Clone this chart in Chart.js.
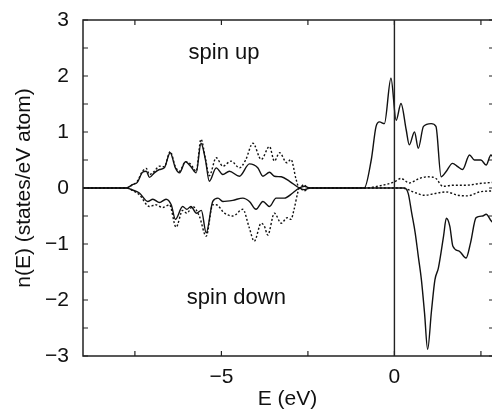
<!DOCTYPE html>
<html>
<head>
<meta charset="utf-8">
<script src="https://cdn.jsdelivr.net/npm/chart.js@4"></script>
<style>
	html, body { margin: 0; padding: 0; background: #fff; overflow: hidden; }
	#wrap { width: 492px; height: 412px; }
</style>
</head>
<body>
<div id="wrap"><canvas id="dos" width="492" height="412"></canvas></div>
<script>

// energies (eV) and n(E) values, one pair per curve

const upSolidE = [ -9, -7.75, -7.57, -7.43, -7.28, -7.17, -7.08, -6.94, -6.79, -6.65, -6.48, -6.33, -6.21, -6.04, -5.88, -5.73, -5.59, -5.46, -5.35, -5.15, -4.96, -4.77, -4.48, -4.19, -3.95, -3.8, -3.61, -3.47, -3.27, -3.03, -2.75, -2.6, -2.45, -0.87, -0.67, -0.53, -0.43, -0.29, -0.1, 0.05, 0.19, 0.34, 0.43, 0.58, 0.69, 0.84, 1.06, 1.2, 1.35, 1.49, 1.68, 1.83, 1.97, 2.17, 2.31, 2.5, 2.65, 2.79, 2.85 ];
const upSolidN = [ 0, 0, 0.06, 0.1, 0.28, 0.3, 0.19, 0.27, 0.33, 0.36, 0.63, 0.36, 0.27, 0.47, 0.38, 0.27, 0.8, 0.5, 0.12, 0.36, 0.24, 0.3, 0.21, 0.43, 0.36, 0.21, 0.28, 0.21, 0.2, 0.12, 0, -0.03, 0, 0, 0.5, 1.1, 1.18, 1.15, 1.96, 1.21, 1.51, 1.04, 0.77, 1.0, 0.71, 1.1, 1.15, 1.1, 0.2, 0.29, 0.44, 0.38, 0.33, 0.59, 0.5, 0.5, 0.41, 0.59, 0.55 ];

const upDotE = [ -9, -7.75, -7.57, -7.43, -7.28, -7.17, -7.08, -6.94, -6.79, -6.65, -6.48, -6.33, -6.21, -6.04, -5.88, -5.73, -5.59, -5.46, -5.35, -5.15, -4.96, -4.72, -4.48, -4.3, -4.09, -3.85, -3.61, -3.47, -3.32, -3.11, -2.99, -2.84, -2.75, -2.62, -2.5, -0.87, -0.34, 0, 0.19, 0.43, 0.72, 0.96, 1.2, 1.4, 1.69, 2.07, 2.46, 2.85 ];
const upDotN = [ 0, 0, 0.06, 0.12, 0.3, 0.35, 0.24, 0.3, 0.39, 0.38, 0.65, 0.38, 0.3, 0.47, 0.42, 0.3, 0.87, 0.52, 0.22, 0.54, 0.39, 0.48, 0.36, 0.5, 0.8, 0.51, 0.74, 0.48, 0.63, 0.45, 0.51, 0.15, 0, 0.06, 0, 0, 0.05, 0.11, 0.17, 0.09, 0.17, 0.2, 0.17, 0.03, 0.05, 0.05, 0.08, 0.1 ];

const downSolidE = [ -9, -7.75, -7.55, -7.37, -7.13, -6.98, -6.79, -6.6, -6.45, -6.33, -6.12, -6.0, -5.88, -5.72, -5.58, -5.44, -5.25, -5.1, -4.96, -4.67, -4.38, -4.19, -4.0, -3.8, -3.61, -3.42, -3.18, -2.94, -2.75, -2.6, -2.45, 0.29, 0.4, 0.5, 0.6, 0.69, 0.78, 0.87, 0.96, 1.07, 1.17, 1.27, 1.42, 1.5, 1.6, 1.69, 1.88, 2.07, 2.2, 2.36, 2.55, 2.65, 2.8, 2.85 ];
const downSolidN = [ 0, 0, -0.04, -0.09, -0.24, -0.2, -0.26, -0.2, -0.3, -0.56, -0.33, -0.38, -0.33, -0.45, -0.4, -0.8, -0.24, -0.18, -0.24, -0.22, -0.18, -0.24, -0.38, -0.24, -0.33, -0.18, -0.18, -0.09, 0, 0.03, 0, 0, -0.1, -0.45, -0.8, -1.22, -1.64, -2.23, -2.88, -2.2, -1.64, -1.43, -0.86, -0.54, -0.68, -1.04, -1.13, -1.25, -0.98, -0.53, -0.5, -0.47, -0.59, -0.62 ];

const downDotE = [ -9, -7.75, -7.55, -7.37, -7.08, -6.9, -6.7, -6.5, -6.31, -6.12, -6.0, -5.83, -5.64, -5.44, -5.25, -5.15, -4.91, -4.67, -4.38, -4.2, -4.05, -3.85, -3.76, -3.66, -3.47, -3.27, -3.1, -2.99, -2.9, -2.8, -2.75, -2.6, -2.45, 0.2, 0.63, 0.87, 1.16, 1.49, 1.83, 2.12, 2.46, 2.85 ];
const downDotN = [ 0, 0, -0.05, -0.12, -0.33, -0.3, -0.35, -0.3, -0.7, -0.4, -0.45, -0.33, -0.5, -0.86, -0.3, -0.3, -0.45, -0.5, -0.38, -0.7, -0.95, -0.63, -0.68, -0.84, -0.45, -0.63, -0.53, -0.56, -0.38, -0.1, 0, -0.05, 0, 0, -0.09, -0.13, -0.1, -0.07, -0.13, -0.14, -0.07, -0.05 ];

const xTickLabels = [ -5, 0 ];
const yTickLabels = [ -3, -2, -1, 0, 1, 2, 3 ];
// note anchors: left edge and baseline, in data units
const notes = [ { text: 'spin up', x: -5.95, y: 2.31 }, { text: 'spin down', x: -6.0, y: -2.08 } ];

const FONT = "'Liberation Sans', Arial, sans-serif";
const INK = '#111';

const pairs = ( es, ns ) => es.map( ( e, i ) => ( { x: e, y: ns[ i ] } ) );

const minus = v => v < 0 ? '\u2212' + Math.abs( v ) : String( v );

function curve ( es, ns, dotted ) {

	return {
		data: pairs( es, ns ),
		borderColor: INK,
		borderWidth: 1.4,
		borderDash: dotted ? [ 2, 2 ] : [],
		pointRadius: 0,
		fill: false,
		cubicInterpolationMode: 'monotone'
	};

}

// drop the label overhang chart.js reserves, so the plot box is set by layout padding alone
function noOverhang ( s ) {

	s.paddingTop = 0;
	s.paddingBottom = 0;
	s.paddingLeft = 0;
	s.paddingRight = 0;

}

// frame, inward ticks, the E = 0 line and the two notes
const framePlugin = {
	id: 'frame',
	afterDatasetsDraw ( chart ) {

		const { ctx, chartArea: a, scales: { x, y } } = chart;

		ctx.save();
		ctx.strokeStyle = '#222';
		ctx.lineWidth = 1.5;

		ctx.beginPath();
		ctx.moveTo( a.right + 2, a.top );
		ctx.lineTo( a.left, a.top );
		ctx.lineTo( a.left, a.bottom );
		ctx.lineTo( a.right + 2, a.bottom );
		ctx.stroke();

		ctx.lineWidth = 1.2;
		ctx.beginPath();

		for ( let v = -3; v <= 3; v += 0.5 ) {

			const py = y.getPixelForValue( v );
			ctx.moveTo( a.left, py );
			ctx.lineTo( a.left + 5, py );
			ctx.moveTo( a.right, py );
			ctx.lineTo( a.right - 3, py );

		}

		for ( let v = -7.5; v <= 2.5; v += 2.5 ) {

			const px = x.getPixelForValue( v );
			ctx.moveTo( px, a.top );
			ctx.lineTo( px, a.top + 5 );
			ctx.moveTo( px, a.bottom );
			ctx.lineTo( px, a.bottom - 5 );

		}

		ctx.stroke();

		const zx = x.getPixelForValue( 0 );
		ctx.lineWidth = 1.4;
		ctx.beginPath();
		ctx.moveTo( zx, a.top );
		ctx.lineTo( zx, a.bottom );
		ctx.stroke();

		ctx.fillStyle = INK;
		ctx.font = '22px ' + FONT;
		ctx.textAlign = 'left';
		ctx.textBaseline = 'alphabetic';

		notes.forEach( n => ctx.fillText( n.text, x.getPixelForValue( n.x ), y.getPixelForValue( n.y ) ) );

		ctx.restore();

	}
};

const config = {
	type: 'line',
	data: {
		datasets: [
			curve( upSolidE, upSolidN, false ),
			curve( upDotE, upDotN, true ),
			curve( downSolidE, downSolidN, false ),
			curve( downDotE, downDotN, true )
		]
	},
	options: {
		responsive: false,
		animation: false,
		events: [],
		layout: {
			padding: { top: 20, right: 0, bottom: 0, left: 0 }
		},
		plugins: {
			legend: { display: false },
			tooltip: { enabled: false }
		},
		scales: {
			x: {
				type: 'linear',
				min: -9,
				max: 2.82,
				grid: { display: false, drawTicks: false },
				border: { display: false },
				afterFit: s => { s.height = 56; noOverhang( s ); },
				ticks: {
					stepSize: 2.5,
					padding: 9,
					color: INK,
					font: { family: FONT, size: 21 },
					maxRotation: 0,
					autoSkip: false,
					callback: v => xTickLabels.includes( v ) ? minus( v ) : ''
				},
				title: {
					display: true,
					text: 'E (eV)',
					color: INK,
					font: { family: FONT, size: 21 },
					padding: { top: 0, bottom: 0 }
				}
			},
			y: {
				type: 'linear',
				min: -3,
				max: 3,
				grid: { display: false, drawTicks: false },
				border: { display: false },
				afterFit: s => { s.width = 83; noOverhang( s ); },
				ticks: {
					stepSize: 1,
					padding: 14,
					color: INK,
					font: { family: FONT, size: 21 },
					callback: v => yTickLabels.includes( v ) ? minus( v ) : ''
				},
				title: {
					display: true,
					text: 'n(E) (states/eV atom)',
					color: INK,
					font: { family: FONT, size: 21 },
					padding: { top: 12, bottom: 0 }
				}
			}
		}
	},
	plugins: [ framePlugin ]
};

new Chart( document.getElementById( 'dos' ), config );

</script>
</body>
</html>
